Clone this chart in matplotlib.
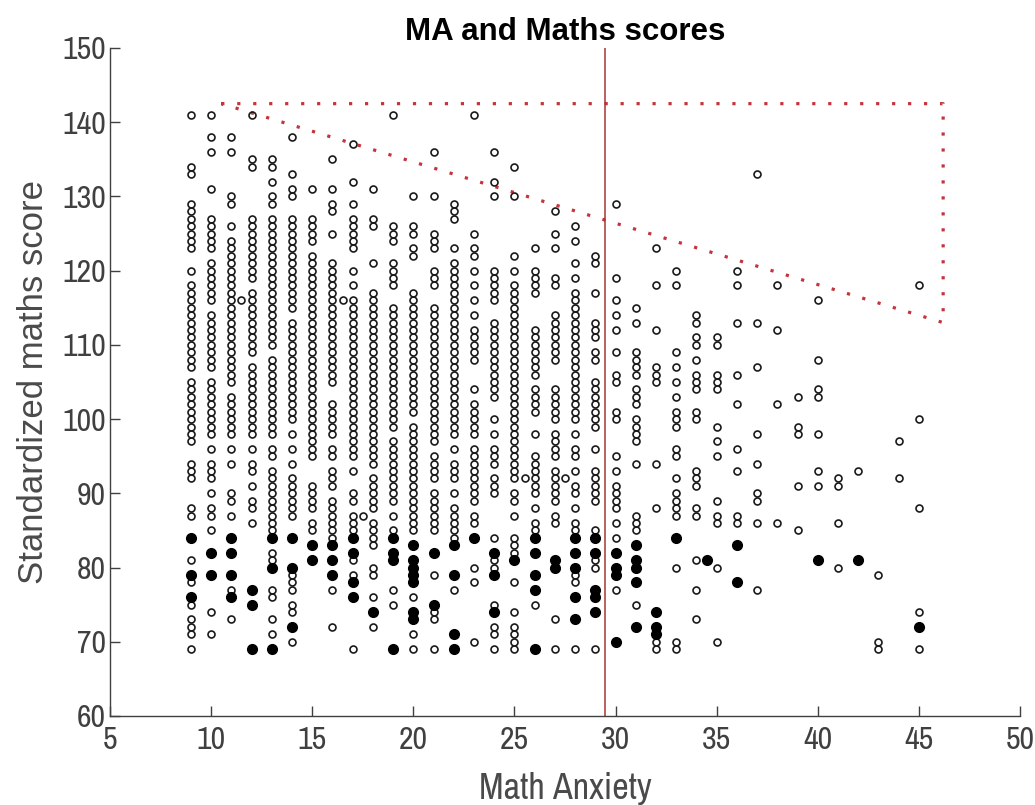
import matplotlib
matplotlib.use("Agg")
import matplotlib.pyplot as plt

narrow = ['Liberation Sans Narrow', 'Archivo Narrow', 'Liberation Sans', 'DejaVu Sans']
plain = ['Liberation Sans', 'DejaVu Sans']
plt.rcParams['font.family'] = narrow

# hollow points: math anxiety score -> standardized maths scores
hollow = {
    9: [69, 71, 72, 73, 75, 78, 81, 87, 88, 92, 93, 94, 97, 98, 99, 100, 101, 102, 103, 104, 105,
        107, 108, 109, 110, 111, 112, 113, 114, 115, 116, 117, 118, 120, 123, 124, 125, 126, 127,
        128, 129, 133, 134, 141],
    10: [71, 74, 85, 87, 88, 90, 92, 93, 94, 96, 98, 99, 100, 101, 102, 103, 104, 105, 107, 108,
         109, 110, 111, 112, 113, 114, 116, 117, 118, 119, 120, 121, 123, 124, 125, 126, 127, 131,
         136, 138, 141],
    11: [73, 77, 87, 89, 90, 94, 96, 98, 99, 100, 101, 102, 103, 105, 106, 107, 108, 109, 110, 111,
         112, 113, 114, 115, 116, 117, 118, 119, 120, 121, 122, 123, 124, 126, 129, 130, 136, 138],
    12: [86, 88, 89, 91, 93, 94, 96, 98, 99, 100, 101, 102, 103, 104, 105, 106, 107, 109, 110, 111,
         112, 113, 114, 115, 116, 117, 119, 120, 121, 122, 123, 124, 125, 126, 127, 134, 135, 141],
    13: [71, 73, 76, 77, 81, 82, 85, 86, 87, 88, 89, 90, 91, 92, 93, 95, 96, 98, 99, 100, 101, 102,
         103, 104, 105, 106, 107, 108, 110, 111, 112, 113, 114, 115, 116, 117, 118, 119, 120, 121,
         122, 123, 124, 125, 126, 127, 129, 130, 132, 134, 135],
    14: [70, 74, 75, 77, 78, 79, 87, 88, 89, 90, 91, 92, 94, 96, 98, 100, 101, 102, 103, 104, 105,
         106, 107, 108, 109, 110, 111, 112, 113, 115, 116, 117, 118, 119, 120, 121, 122, 123, 124,
         125, 126, 127, 130, 131, 133, 138],
    15: [85, 86, 88, 89, 90, 91, 95, 96, 97, 98, 99, 100, 101, 102, 103, 104, 105, 106, 107, 108,
         109, 110, 111, 112, 113, 114, 115, 116, 117, 118, 119, 120, 121, 122, 124, 125, 126, 127,
         131],
    16: [72, 77, 84, 85, 86, 87, 88, 89, 91, 92, 93, 95, 96, 98, 99, 100, 101, 102, 105, 106, 107,
         108, 109, 110, 111, 112, 113, 114, 115, 116, 117, 118, 119, 120, 121, 125, 128, 129, 131,
         135],
    17: [69, 79, 81, 85, 86, 87, 89, 90, 93, 95, 96, 97, 98, 99, 100, 101, 102, 103, 104, 105, 106,
         107, 108, 109, 110, 111, 112, 113, 114, 115, 116, 118, 120, 123, 124, 125, 126, 127, 129,
         132, 137],
    18: [72, 76, 79, 80, 83, 84, 85, 86, 88, 89, 90, 91, 92, 94, 95, 96, 97, 98, 99, 100, 101, 102,
         103, 104, 105, 106, 107, 108, 109, 110, 111, 112, 113, 114, 115, 116, 117, 121, 126, 127,
         131],
    19: [75, 77, 85, 87, 89, 90, 91, 92, 93, 94, 95, 96, 97, 99, 100, 101, 102, 103, 104, 105, 106,
         107, 108, 109, 110, 111, 112, 113, 114, 115, 118, 119, 120, 121, 124, 125, 126, 141],
    20: [69, 71, 76, 85, 86, 87, 88, 89, 90, 91, 92, 93, 94, 95, 96, 97, 98, 99, 101, 102, 103, 104,
         105, 106, 107, 108, 109, 110, 111, 112, 113, 114, 115, 116, 117, 122, 123, 125, 126, 130],
    21: [69, 73, 74, 79, 85, 86, 87, 88, 89, 90, 92, 93, 94, 95, 97, 98, 99, 100, 101, 102, 103, 104,
         105, 106, 107, 108, 109, 110, 111, 112, 113, 114, 115, 118, 119, 120, 123, 124, 125, 130,
         136],
    22: [77, 84, 85, 86, 87, 88, 90, 92, 93, 94, 96, 98, 99, 100, 101, 102, 103, 104, 105, 106, 107,
         108, 109, 110, 111, 112, 113, 114, 115, 116, 117, 118, 119, 120, 121, 123, 127, 128, 129],
    23: [70, 78, 80, 86, 87, 89, 90, 91, 92, 93, 94, 95, 96, 98, 99, 100, 101, 102, 104, 108, 109,
         110, 111, 112, 114, 116, 118, 120, 122, 123, 125, 141],
    24: [69, 71, 72, 75, 80, 81, 84, 90, 91, 92, 94, 95, 96, 98, 100, 103, 104, 105, 106, 107, 108,
         109, 110, 111, 112, 113, 116, 117, 118, 119, 120, 130, 132, 136],
    25: [69, 70, 71, 72, 74, 78, 82, 83, 84, 87, 89, 90, 92, 93, 94, 95, 96, 97, 98, 99, 100, 101,
         102, 103, 104, 105, 106, 107, 108, 109, 110, 111, 112, 113, 114, 115, 116, 117, 118, 120,
         122, 130, 134],
    26: [75, 85, 86, 88, 90, 91, 92, 93, 94, 95, 98, 101, 102, 103, 104, 106, 107, 108, 109, 110,
         111, 112, 117, 118, 119, 120, 123],
    27: [69, 73, 86, 87, 89, 90, 91, 92, 93, 95, 96, 97, 98, 100, 101, 102, 103, 104, 108, 109, 110,
         111, 112, 113, 114, 118, 119, 123, 125, 128],
    28: [69, 78, 79, 85, 86, 88, 90, 91, 93, 95, 96, 98, 100, 101, 102, 103, 104, 105, 106, 107, 108,
         109, 110, 111, 112, 113, 114, 115, 116, 117, 119, 121, 124, 126],
    29: [69, 80, 81, 85, 89, 90, 91, 92, 93, 96, 99, 100, 101, 102, 103, 104, 105, 108, 109, 111,
         112, 113, 117, 121, 122],
    30: [77, 84, 86, 88, 89, 90, 91, 93, 95, 100, 101, 105, 106, 109, 112, 114, 116, 119, 129],
    31: [75, 85, 86, 87, 94, 97, 98, 99, 100, 102, 103, 104, 106, 107, 108, 109, 113, 115],
    32: [69, 70, 88, 94, 105, 106, 107, 112, 118, 123],
    33: [69, 70, 80, 87, 88, 89, 90, 92, 95, 96, 99, 100, 101, 103, 105, 107, 109, 118, 120],
    34: [73, 77, 81, 87, 88, 91, 92, 93, 100, 101, 104, 105, 106, 108, 110, 111, 113, 114],
    35: [70, 80, 86, 87, 89, 95, 97, 99, 104, 105, 106, 110, 111],
    36: [86, 87, 93, 96, 102, 106, 113, 118, 120],
    37: [77, 86, 89, 90, 94, 98, 107, 113, 133],
    38: [86, 102, 112, 118],
    39: [85, 91, 98, 99, 103],
    40: [91, 93, 98, 103, 104, 108, 116],
    41: [80, 86, 91, 92],
    42: [93],
    43: [69, 70, 79],
    44: [92, 97],
    45: [69, 74, 88, 100, 118],
}

# filled points (low scorers)
filled = {
    9: [76, 79, 84], 10: [79, 82], 11: [76, 79, 82, 84], 12: [69, 75, 77], 13: [69, 80, 84],
    14: [72, 80, 84], 15: [81, 83], 16: [79, 81, 83], 17: [76, 78, 82, 84], 18: [74],
    19: [69, 81, 82, 84], 20: [73, 74, 78, 79, 80, 81, 83], 21: [75, 82], 22: [69, 71, 79, 83],
    23: [84], 24: [74, 79, 82], 25: [81], 26: [69, 77, 79, 82, 84], 27: [80, 81],
    28: [73, 76, 80, 82, 84], 29: [74, 76, 77, 82, 84], 30: [70, 79, 80, 82],
    31: [72, 78, 80, 81, 83], 32: [71, 72, 74], 33: [84], 36: [78, 83], 40: [81], 42: [81],
    45: [72],
}

# a few points off the integer grid
extra_hollow_x = [11.5, 16.5, 17.5, 25.5, 27.5]
extra_hollow_y = [116, 116, 87, 92, 92]
extra_filled_x = [34.5]
extra_filled_y = [81]

cutoff_x = 29.5
region_x = [10.5, 46.2, 46.2, 10.5]
region_y = [142.5, 142.5, 113, 142.5]

hx = [x for x, ys in hollow.items() for _ in ys] + extra_hollow_x
hy = [y for ys in hollow.values() for y in ys] + extra_hollow_y
fx = [x for x, ys in filled.items() for _ in ys] + extra_filled_x
fy = [y for ys in filled.values() for y in ys] + extra_filled_y

fig = plt.figure(figsize=(10.35, 8.05), dpi=100)
ax = fig.add_axes([0.1063, 0.1106, 0.8792, 0.8298])

ax.plot(region_x, region_y, color='#c4343c', lw=2.3, ls=(0, (1, 4)))
ax.axvline(cutoff_x, color='#a83434', lw=1.1)

ax.plot(hx, hy, 'o', ms=5, mfc='none', mec='#1a1a1a', mew=1.2, ls='none')
ax.plot(fx, fy, 'o', ms=7, mfc='black', mec='black', ls='none')

ax.set_xlim(5, 50)
ax.set_ylim(60, 150)
ax.set_xticks(range(5, 51, 5))
ax.set_yticks(range(60, 151, 10))

for s in ['top', 'right']:
    ax.spines[s].set_visible(False)
for s in ['left', 'bottom']:
    ax.spines[s].set_color('#404040')
    ax.spines[s].set_linewidth(1.0)

ax.tick_params(direction='in', length=7, width=1, colors='#404040', labelsize=23)
ax.tick_params(axis='x', pad=7)
ax.tick_params(axis='y', pad=3)

ax.set_xlabel('Math Anxiety', fontsize=26, color='#4a4a4a', labelpad=13)
ax.set_ylabel('Standardized maths score', fontsize=25, color='#4a4a4a', labelpad=9,
              family=plain)
ax.set_title('MA and Maths scores', fontsize=22.5, fontweight='bold', color='black',
             family=plain, pad=6)

fig.savefig('out.png', dpi=100)
